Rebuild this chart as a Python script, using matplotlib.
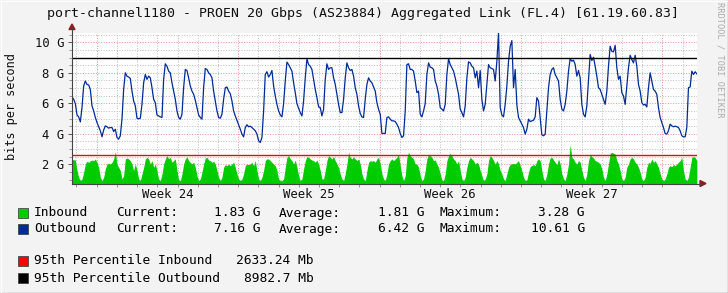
import numpy as np
import matplotlib
matplotlib.use("Agg")
import matplotlib.pyplot as plt
from matplotlib.patches import Rectangle, Polygon
from matplotlib.lines import Line2D
from matplotlib.ticker import MultipleLocator

# ---------------- data (G bit/s, ~2 h samples over the month) ----------------
inbound = [
    2.30, 2.30, 2.28, 1.59, 1.15, 0.93, 1.04, 1.48, 2.02, 2.20,
    2.13, 2.24, 2.28, 2.24, 2.35, 2.13, 1.80, 1.15, 0.93, 1.15,
    1.70, 2.02, 2.07, 2.02, 2.13, 2.35, 2.83, 2.02, 1.80, 1.59,
    1.04, 1.26, 2.35, 2.41, 2.35, 2.24, 2.02, 1.59, 2.02, 1.59,
    1.04, 0.93, 1.37, 1.80, 2.35, 2.46, 2.35, 2.02, 2.24, 1.80,
    2.02, 1.59, 1.04, 0.93, 1.37, 2.02, 2.35, 2.57, 2.35, 2.46,
    2.13, 2.24, 2.35, 1.59, 0.98, 0.93, 1.37, 2.02, 2.35, 2.50,
    2.24, 2.13, 2.02, 2.13, 1.80, 1.26, 0.93, 1.04, 1.48, 2.02,
    2.41, 2.46, 2.28, 2.24, 2.13, 2.20, 2.02, 1.59, 1.15, 0.93,
    1.15, 1.80, 1.98, 1.91, 2.02, 1.91, 2.02, 2.13, 1.80, 1.37,
    1.04, 0.93, 1.04, 1.37, 1.91, 2.02, 1.98, 2.02, 2.13, 1.91,
    2.24, 1.59, 1.04, 0.93, 1.15, 1.59, 2.24, 2.35, 2.35, 2.24,
    2.13, 2.02, 1.91, 1.59, 1.04, 0.93,
    0.93, 1.04, 1.80, 2.46, 2.57, 2.35, 2.24, 2.02, 2.28, 1.80,
    1.26, 0.93, 1.04, 1.70, 2.24, 2.50, 2.46, 2.35, 2.28, 2.24,
    2.13, 2.28, 2.02, 1.59, 1.04, 1.04, 1.59, 2.24, 2.57, 2.46,
    2.35, 2.50, 2.24, 2.02, 1.80, 1.37, 1.04, 0.93, 1.37, 2.02,
    2.78, 2.46, 2.35, 2.50, 2.35, 2.24, 2.35, 2.02, 1.37, 1.04,
    0.93, 1.59, 2.13, 2.24, 2.20, 2.24, 2.13, 2.35, 2.46, 2.02,
    1.37, 1.04, 0.93, 1.37, 2.02, 2.24, 2.35, 2.24, 2.35, 2.46,
    2.67, 1.91, 1.26, 0.93, 1.26, 2.46, 2.78, 2.57, 2.46, 2.35,
    2.02, 2.02, 1.80, 1.26, 0.93, 1.04, 1.59, 2.35, 2.67, 2.57,
    2.46, 2.24, 2.28, 2.02, 1.80, 1.37, 0.98, 0.93, 1.37, 2.24,
    2.57, 2.72, 2.57, 2.35, 2.24, 2.02, 2.24, 1.59, 1.04, 0.93,
    1.15, 1.80, 2.24, 2.46, 2.35, 2.24, 2.02, 2.13, 2.02, 1.59,
    1.26, 0.93, 1.04, 1.37, 2.24, 2.57,
    2.46, 2.24, 2.02, 2.24, 2.02, 1.59, 1.37, 1.04, 0.93, 1.37,
    1.80, 2.02, 2.02, 2.07, 2.02, 2.13, 2.24, 1.91, 1.59, 1.15,
    0.93, 0.98, 1.48, 1.85, 1.91, 1.98, 1.91, 2.24, 2.35, 2.24,
    1.59, 1.04, 0.93, 1.37, 2.02, 2.41, 2.46, 2.28, 2.13, 1.98,
    2.35, 2.02, 1.37, 1.04, 0.93, 1.37, 2.02, 3.28, 2.46, 2.35,
    2.13, 2.02, 2.24, 2.13, 1.59, 1.15, 0.93, 1.37, 2.24, 2.63,
    2.50, 2.41, 2.24, 2.20, 2.13, 2.02, 1.70, 1.15, 0.93, 1.37,
    2.02, 2.72, 2.78, 2.72, 2.67, 2.24, 2.02, 1.59, 1.04, 0.93,
    1.15, 1.80, 2.02, 2.35, 2.46, 2.35, 2.13, 2.02, 1.80, 1.48,
    1.04, 0.93, 1.15, 1.80, 2.13, 2.07, 2.35, 2.13, 2.24, 2.02,
    1.80, 1.37, 1.04, 0.93, 1.04, 1.37, 1.80, 1.91, 1.85, 1.98,
    1.91, 2.02, 2.13, 2.24, 2.46, 1.59, 1.04, 0.93, 1.15, 1.80,
    2.46, 2.50, 2.46, 2.24,
]

outbound = [
    6.43, 6.26, 5.98, 5.24, 5.11, 4.78, 5.72, 7.13, 7.46, 7.24,
    7.20, 6.91, 5.83, 5.50, 5.07, 4.74, 4.46, 4.20, 3.80, 4.24,
    4.52, 4.46, 4.37, 4.41, 4.41, 4.15, 4.30, 3.76, 3.65, 3.87,
    4.96, 6.91, 8.00, 7.78, 7.72, 7.63, 6.80, 6.15, 5.83, 5.02,
    4.98, 5.02, 5.93, 7.35, 7.89, 7.57, 7.78, 7.67, 7.02, 6.26,
    6.04, 5.24, 5.17, 5.11, 5.07, 7.57, 8.59, 8.43, 8.11, 8.00,
    7.35, 6.80, 6.26, 5.50, 5.07, 4.96, 5.28, 7.02, 8.22, 8.15,
    7.67, 7.13, 6.80, 6.59, 6.20, 5.72, 5.24, 5.07, 4.96, 7.02,
    8.28, 8.22, 8.00, 7.89, 7.67, 6.80, 6.15, 5.50, 5.07, 5.02,
    5.28, 6.26, 7.02, 7.07, 6.80, 6.63, 6.15, 5.50, 5.17, 4.89,
    4.59, 4.30, 3.98, 3.80, 4.41, 4.59, 4.46, 4.50, 4.41, 4.30,
    4.20, 3.98, 3.54, 3.43, 3.76, 5.50, 7.89, 8.07, 7.72, 7.89,
    8.15, 7.13, 6.48, 5.93, 5.50, 5.24,
    5.11, 5.98, 7.46, 8.70, 8.54, 8.33, 8.11, 7.35, 6.70, 5.98,
    5.67, 5.39, 5.17, 6.15, 7.67, 8.91, 8.54, 8.43, 8.22, 7.57,
    6.91, 6.37, 5.76, 5.72, 5.17, 5.61, 7.57, 8.59, 8.22, 8.33,
    8.33, 7.67, 7.24, 6.59, 5.93, 5.39, 5.39, 6.26, 7.67, 8.65,
    8.33, 8.15, 8.22, 7.78, 7.02, 6.59, 5.83, 5.33, 5.11, 5.07,
    6.26, 7.24, 7.67, 7.46, 7.35, 7.07, 6.80, 6.04, 5.61, 5.28,
    4.02, 4.02, 4.02, 5.07, 5.11, 4.96, 4.85, 4.85, 4.80, 4.63,
    4.41, 4.02, 3.76, 3.87, 5.50, 8.54, 8.59, 8.22, 8.22, 8.11,
    7.46, 6.70, 6.80, 5.28, 5.11, 5.50, 5.98, 7.89, 8.65, 8.37,
    8.33, 8.22, 7.46, 7.13, 6.59, 5.72, 5.61, 5.50, 5.93, 7.89,
    8.91, 8.54, 8.33, 8.11, 7.67, 7.13, 6.59, 5.61, 5.39, 5.11,
    5.83, 7.67, 8.72, 8.65, 8.43, 8.33, 7.67, 8.11, 7.02, 8.15,
    6.26, 5.50, 5.93, 7.24, 8.54, 8.33,
    8.28, 8.22, 7.46, 8.76, 10.61, 5.72, 5.24, 5.11, 5.93, 7.13,
    8.76, 9.74, 10.11, 7.02, 8.22, 5.89, 5.07, 4.85, 4.63, 4.41,
    3.98, 4.30, 4.96, 4.80, 4.85, 4.89, 5.11, 6.37, 6.15, 5.07,
    3.93, 3.87, 3.98, 5.50, 7.02, 7.89, 8.22, 8.33, 7.89, 7.67,
    7.46, 6.26, 5.61, 5.50, 5.93, 6.80, 8.11, 8.93, 8.76, 8.83,
    8.54, 7.78, 8.15, 7.67, 5.93, 5.28, 5.11, 5.83, 7.57, 9.20,
    8.80, 9.02, 8.43, 7.78, 7.02, 6.91, 6.59, 6.26, 5.93, 6.80,
    8.43, 9.74, 9.41, 9.37, 9.80, 8.33, 7.57, 7.78, 6.70, 6.48,
    5.93, 7.13, 8.33, 9.15, 8.87, 8.65, 9.15, 8.43, 7.24, 6.80,
    6.04, 5.89, 5.93, 5.76, 7.02, 8.00, 7.46, 6.91, 6.80, 6.59,
    5.72, 5.07, 4.74, 4.41, 4.02, 3.98, 4.20, 4.63, 4.52, 4.46,
    4.50, 4.46, 4.41, 4.20, 3.87, 3.80, 3.80, 4.41, 7.02, 7.07,
    8.11, 7.89, 8.07, 7.93,
]

week_labels = ["Week 24", "Week 25", "Week 26", "Week 27"]
y_ticks = [2, 4, 6, 8, 10]
pct95_in_mb = 2633.24
pct95_out_mb = 8982.7
series_names = ["Inbound", "Outbound"]
current_g = [1.83, 7.16]
average_g = [1.81, 6.42]
maximum_g = [3.28, 10.61]

title = "port-channel1180 - PROEN 20 Gbps (AS23884) Aggregated Link (FL.4) [61.19.60.83]"

# ---------------- styling / layout ----------------
W, H = 728, 293
BG = "#F3F3F3"
GREEN = "#00CC00"
BLUE = "#002A97"
RED = "#FF0000"
MONO = "DejaVu Sans Mono"

SPAN_DAYS = 30.93          # visible time span
FIRST_WEEK = 1.221         # day offset of first week boundary
Y_MIN, Y_MAX = 0.74, 10.61

def fx(x):
    return x / W

def fy(y):
    return 1 - y / H

fig = plt.figure(figsize=(W / 100, H / 100), dpi=100, facecolor=BG)

AX_L, AX_R, AX_T, AX_B = 72, 697, 33, 183.5
ax = fig.add_axes([fx(AX_L), fy(AX_B), (AX_R - AX_L) / W, (AX_B - AX_T) / H])
ax.set_facecolor("white")
ax.set_xlim(0, SPAN_DAYS)
ax.set_ylim(Y_MIN, Y_MAX)

t_in = np.linspace(0.0, SPAN_DAYS - 0.01, len(inbound))
t_out = np.linspace(0.0, SPAN_DAYS - 0.01, len(outbound))

# grid
dot = (0, (1, 1.6))
for v in np.arange(1.0, Y_MAX, 0.5):
    major = abs(v - round(v)) < 1e-6 and int(round(v)) % 2 == 0
    ax.axhline(v, color="#E89898" if major else "#C0C0C0", lw=0.72,
               ls=dot, zorder=0.5)
d = FIRST_WEEK - 1
k = -1
while d < SPAN_DAYS:
    week = (k % 7 == 0)
    ax.axvline(d, color="#E89898" if week else "#C0C0C0", lw=0.72,
               ls=dot, zorder=0.5)
    d += 1
    k += 1

ax.fill_between(t_in, 0, inbound, color=GREEN, lw=0, zorder=2)
ax.plot(t_out, outbound, color=BLUE, lw=0.9, zorder=3)
ax.axhline(pct95_in_mb / 1000, color=RED, lw=1.0, zorder=4)
ax.axhline(pct95_out_mb / 1000, color="black", lw=1.0, zorder=4)

# axes / ticks
for s in ["top", "right"]:
    ax.spines[s].set_visible(False)
for s in ["left", "bottom"]:
    ax.spines[s].set_color("#444444")
    ax.spines[s].set_linewidth(0.8)
    ax.spines[s].set_zorder(5)

ax.set_yticks(y_ticks)
ax.set_yticklabels([f"{v} G" for v in y_ticks])
ax.yaxis.set_minor_locator(MultipleLocator(0.5))
ax.tick_params(axis="y", which="major", length=3, width=0.7, color="#555555",
               pad=2.5, labelsize=8.8, labelcolor="#111111")
ax.tick_params(axis="y", which="minor", length=2, width=0.6, color="#888888")

week_mid = [FIRST_WEEK + 3.5 + 7 * i for i in range(len(week_labels))]
ax.set_xticks(week_mid)
ax.set_xticklabels(week_labels)
ax.set_xticks([FIRST_WEEK - 1 + i for i in range(int(SPAN_DAYS))], minor=True)
ax.tick_params(axis="x", which="major", length=0, pad=3.5, labelsize=8.8,
               labelcolor="#111111")
ax.tick_params(axis="x", which="minor", length=2.5, width=0.6, color="#888888")
for lab in ax.get_xticklabels() + ax.get_yticklabels():
    lab.set_family(MONO)

# axis extensions and arrows
fig.add_artist(Line2D([fx(72), fx(72)], [fy(AX_T), fy(28)], color="#444444", lw=0.8))
fig.add_artist(Line2D([fx(AX_R), fx(701)], [fy(AX_B), fy(AX_B)], color="#444444", lw=0.8))
fig.add_artist(Polygon([(fx(69), fy(29.5)), (fx(75), fy(29.5)), (fx(72), fy(24))],
                       closed=True, color="#8B2020", transform=fig.transFigure))
fig.add_artist(Polygon([(fx(700), fy(AX_B - 3)), (fx(700), fy(AX_B + 3)), (fx(706), fy(AX_B))],
                       closed=True, color="#8B2020", transform=fig.transFigure))

# texts
fig.text(fx(363), fy(13.5), title, ha="center", va="center", family=MONO,
         fontsize=9.55, color="#111111")
fig.text(fx(12), fy(107), "bits per second", rotation=90, ha="center", va="center",
         family=MONO, fontsize=8.6, color="#111111")
fig.text(fx(720), fy(60), "RRDTOOL / TOBI OETIKER", rotation=270, ha="center",
         va="center", family=MONO, fontsize=6.2, color="#AAAAAA")

LEG_FS = 9.3
rows_y = [213, 229]
colors = [GREEN, BLUE]
for i, name in enumerate(series_names):
    y = rows_y[i]
    fig.add_artist(Rectangle((fx(18), fy(y + 5)), 10 / W, 10 / H, facecolor=colors[i],
                             edgecolor="#333333", lw=0.5, transform=fig.transFigure))
    fig.text(fx(34), fy(y), name, ha="left", va="center", family=MONO, fontsize=LEG_FS)
    fig.text(fx(116), fy(y), "Current:", ha="left", va="center", family=MONO, fontsize=LEG_FS)
    fig.text(fx(261), fy(y), f"{current_g[i]:.2f} G", ha="right", va="center", family=MONO, fontsize=LEG_FS)
    fig.text(fx(279), fy(y), "Average:", ha="left", va="center", family=MONO, fontsize=LEG_FS)
    fig.text(fx(424), fy(y), f"{average_g[i]:.2f} G", ha="right", va="center", family=MONO, fontsize=LEG_FS)
    fig.text(fx(440), fy(y), "Maximum:", ha="left", va="center", family=MONO, fontsize=LEG_FS)
    fig.text(fx(585), fy(y), f"{maximum_g[i]:.2f} G", ha="right", va="center", family=MONO, fontsize=LEG_FS)

pct_rows = [("95th Percentile Inbound", f"{pct95_in_mb:.2f} Mb", RED, 261, 236),
            ("95th Percentile Outbound", f"{pct95_out_mb:.1f} Mb", "black", 278, 244)]
for label, val, col, y, vx in pct_rows:
    fig.add_artist(Rectangle((fx(18), fy(y + 5)), 10 / W, 10 / H, facecolor=col,
                             edgecolor="#333333", lw=0.5, transform=fig.transFigure))
    fig.text(fx(34), fy(y), label, ha="left", va="center", family=MONO, fontsize=LEG_FS)
    fig.text(fx(vx), fy(y), val, ha="left", va="center", family=MONO, fontsize=LEG_FS)

# frame
fig.add_artist(Line2D([fx(727.5), fx(727.5)], [0, 1], color="#9A9A9A", lw=1.0))
fig.add_artist(Line2D([0, 1], [fy(292.5), fy(292.5)], color="#9A9A9A", lw=1.0))
fig.add_artist(Line2D([fx(0.5), fx(0.5)], [0, 1], color="#FFFFFF", lw=0.8))
fig.add_artist(Line2D([0, 1], [fy(0.5), fy(0.5)], color="#FFFFFF", lw=0.8))

fig.savefig("out.png", dpi=100, facecolor=BG)
